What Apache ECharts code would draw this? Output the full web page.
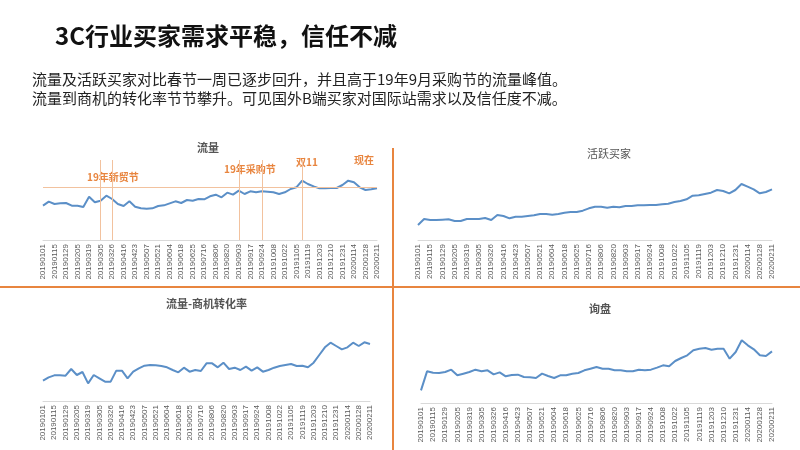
<!DOCTYPE html>
<html><head><meta charset="utf-8">
<script src="https://cdn.jsdelivr.net/npm/echarts@6/dist/echarts.min.js"></script>
<style>html,body{margin:0;padding:0;background:#fff}#c{width:800px;height:450px}</style>
</head><body><div id="c"></div>
<script>
const tickLabels=["20190101","20190115","20190129","20190205","20190319","20190305","20190326","20190416","20190423","20190507","20190521","20190604","20190618","20190625","20190716","20190806","20190820","20190903","20190917","20190924","20191008","20191022","20191105","20191119","20191203","20191210","20191231","20200114","20200128","20200211"];
const midDates=["20190108","20190122","20190203","20190226","20190301","20190312","20190402","20190409","20190430","20190514","20190528","20190611","20190620","20190709","20190730","20190813","20190827","20190910","20190920","20191001","20191015","20191029","20191112","20191126","20191206","20191217","20200107","20200121","20200204"];
const categories=[];
tickLabels.forEach((l,i)=>{categories.push(l);if(i<midDates.length)categories.push(midDates[i]);});
const traffic=[195,183,190,188,187,195,195,199,168,185,180,165,175,190,196,182,198,203,204,203,196,194,188,182,187,178,180,175,176,167,162,170,156,162,150,160,152,155,152,153,155,160,155,145,140,120,130,137,143,143,142,142,133,120,125,140,148,146,143].map(v=>298-v);
const activeBuyers=[255,237,240,240,239,238,243,243,237,237,237,234,240,225,228,235,230,230,228,226,222,222,224,222,218,216,216,212,205,200,200,203,200,202,198,198,196,196,195,195,193,191,186,183,178,167,166,162,158,150,153,160,150,132,140,148,160,156,148].map(v=>300-v);
const conversion=[272,262,256,256,257,237,255,246,280,255,265,275,275,242,242,265,245,235,227,225,226,228,232,240,247,233,245,240,243,220,220,232,218,237,233,240,230,242,232,245,240,233,228,225,222,228,227,232,218,195,172,158,168,178,172,158,168,157,162].map(v=>333-v);
const inquiry=[300,243,247,248,245,238,255,250,245,238,243,240,252,246,258,254,253,260,261,263,250,257,263,255,255,250,248,240,235,230,235,235,240,240,243,243,238,240,238,232,225,228,212,203,195,180,175,173,178,175,175,205,185,150,165,177,195,197,183].map(v=>338-v);
const refLevel=158;
const eventIdx=[10,12,34,38,45];
const orange='#E8853F', blue='#5B8FC7';
const grids=[{left:43,width:334,top:160,height:80},{left:418,width:354,top:160,height:80},{left:43,width:327,top:321,height:80},{left:421,width:351,top:323,height:80}];
const xAxes=grids.map((g,i)=>({type:'category',gridIndex:i,data:categories,boundaryGap:false,
 axisLine:{lineStyle:{color:'#d9d9d9'}},axisTick:{show:false},
 axisLabel:{interval:1,rotate:90,fontSize:8,color:'#595959',margin:4}}));
const yAxes=grids.map((g,i)=>({type:'value',gridIndex:i,min:0,max:240,show:false}));
const ls={color:blue,width:2};
const series=[traffic,activeBuyers,conversion,inquiry].map((d,i)=>({type:'line',xAxisIndex:i,yAxisIndex:i,data:d,showSymbol:false,lineStyle:ls,itemStyle:{color:blue},silent:true}));
series[0].markLine={symbol:'none',silent:true,label:{show:false},lineStyle:{color:'#F2C29E',width:1,type:'solid'},
 data:[{yAxis:refLevel}].concat(eventIdx.map(i=>({xAxis:i})))};
const txt=(x,y,t,s,c,w)=>({type:'text',left:x,top:y,style:{text:t,fill:c,font:(w||'normal')+' '+s+'px "Noto Sans CJK SC"'}});
const chart=echarts.init(document.getElementById('c'));
chart.setOption({animation:false,grid:grids,xAxis:xAxes,yAxis:yAxes,series:series,
 graphic:[
  txt(55,24,'3C行业买家需求平稳，信任不减',24,'#111','bold'),
  txt(32,72,'流量及活跃买家对比春节一周已逐步回升，并且高于19年9月采购节的流量峰值。',15,'#222'),
  txt(32,91,'流量到商机的转化率节节攀升。可见国外B端买家对国际站需求以及信任度不减。',15,'#222'),
  txt(197,142,'流量',11,'#555','bold'),
  txt(587,148,'活跃买家',11,'#555'),
  txt(166,298,'流量-商机转化率',11,'#555','bold'),
  txt(589,303,'询盘',11,'#555','bold'),
  txt(87,172,'19年新贸节',10,orange,'bold'),
  txt(224,164,'19年采购节',10,orange,'bold'),
  txt(296,157,'双11',10,orange,'bold'),
  txt(354,155,'现在',10,orange,'bold'),
  {type:'rect',shape:{x:0,y:286,width:800,height:2},style:{fill:orange}},
  {type:'rect',shape:{x:392,y:148,width:2,height:302},style:{fill:orange}}
 ]});
</script></body></html>
